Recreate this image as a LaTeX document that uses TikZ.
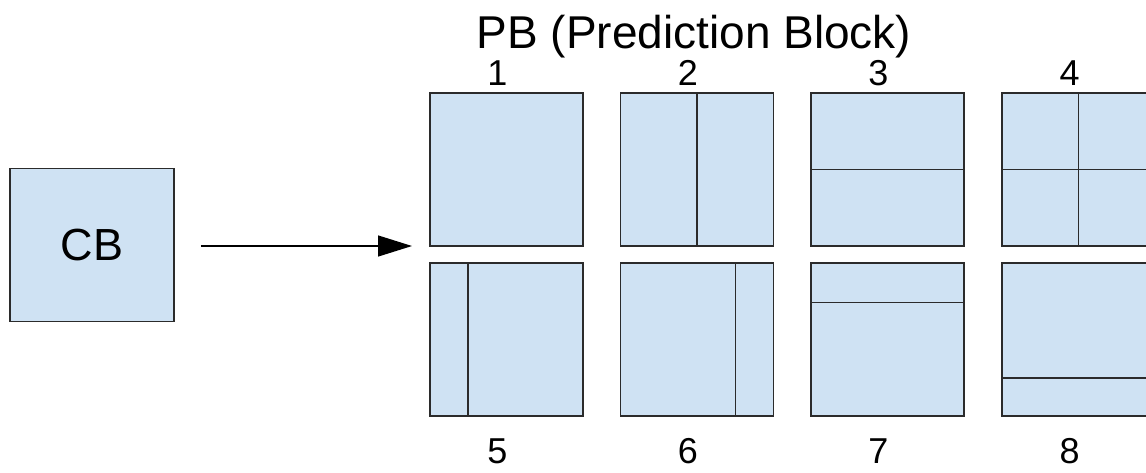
\documentclass[tikz,border=0pt]{standalone}
\usepackage{fontspec}
\setmainfont{Liberation Sans}
\usetikzlibrary{calc,arrows.meta,positioning}

\definecolor{pbblue}{HTML}{CFE2F3}
\definecolor{edge}{HTML}{2B2B2B}

\begin{document}
\begin{tikzpicture}[x=1pt,y=-1pt,
    blk/.style={draw=edge,line width=1.6pt,fill=pbblue,minimum width=153pt,minimum height=153pt,inner sep=0pt},
    cut/.style={draw=edge,line width=1.6pt},
    num/.style={anchor=base,inner sep=0pt,font=\fontsize{36}{40}\selectfont}]
        \path[use as bounding box,clip] (0,0) rectangle (1146,472);

        % CB
        \node[blk,minimum width=164pt,font=\fontsize{45}{50}\selectfont] (cb) at (92,245) {CB};

        % PB, two rows of four
        \node[blk] (pb1) at (506.5,169.5) {};
        \node[blk] (pb2) at (697,169.5) {};
        \node[blk] (pb3) at (887.5,169.5) {};
        \node[blk] (pb4) at (1078.5,169.5) {};
        \node[blk] (pb5) at (506.5,339.5) {};
        \node[blk] (pb6) at (697,339.5) {};
        \node[blk] (pb7) at (887.5,339.5) {};
        \node[blk] (pb8) at (1078.5,339.5) {};

        % splits
        \draw[cut] (pb2.north) -- (pb2.south);
        \draw[cut] (pb3.west) -- (pb3.east);
        \draw[cut] (pb4.north) -- (pb4.south);
        \draw[cut] (pb4.west) -- (pb4.east);
        \draw[cut] ($(pb5.north west)!0.25!(pb5.north east)$) -- ($(pb5.south west)!0.25!(pb5.south east)$);
        \draw[cut] ($(pb6.north west)!0.75!(pb6.north east)$) -- ($(pb6.south west)!0.75!(pb6.south east)$);
        \draw[cut] ($(pb7.north west)!0.26!(pb7.south west)$) -- ($(pb7.north east)!0.26!(pb7.south east)$);
        \draw[cut] ($(pb8.north west)!0.75!(pb8.south west)$) -- ($(pb8.north east)!0.75!(pb8.south east)$);

        % arrow
        \coordinate (tip) at (412,246);
        \draw[line width=1.3pt,-{Triangle[length=34pt,width=21pt]}] ([xshift=26pt]cb.east |- tip) -- (tip);

        % labels
        \node[anchor=base,font=\fontsize{46}{50}\selectfont] (title) at (694,48) {PB (Prediction Block)};
        \foreach \i in {1,2,3,4} {
            \node[num] (n\i) at ([xshift=-9pt,yshift=7pt]pb\i.north) {\i};
        }
        \foreach \i in {5,6,7,8} {
            \node[num] (n\i) at ([xshift=-9pt,yshift=-47pt]pb\i.south) {\i};
        }

    \end{tikzpicture}
\end{document}
